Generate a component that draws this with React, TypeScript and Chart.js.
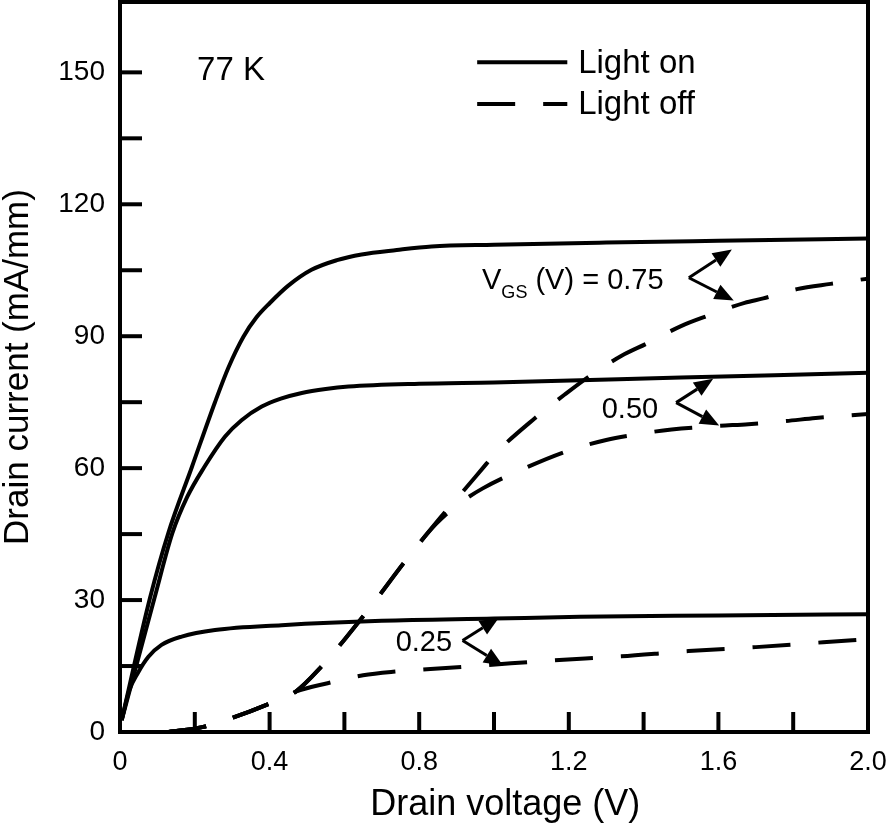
import React, { useEffect, useRef } from 'react';
import { Chart, registerables } from 'chart.js';

Chart.register(...registerables);

const FONT = "'Liberation Sans', Arial, Helvetica, sans-serif";

// Axis ranges and tick settings
const X_MIN = 0;
const X_MAX = 2.0;
const Y_MIN = 0;
const Y_MAX = 166;
const Y_TICK_LAST = 150;
const X_TICK_STEP = 0.2;
const Y_TICK_STEP = 15;

// Light on (solid) — V_GS = 0.75 V
const onV075 = [0.0045, 0.08, 0.129, 0.192, 0.254, 0.29, 0.33, 0.365, 0.4, 0.45, 0.512, 0.58, 0.646, 0.74, 0.833, 1.0, 1.3, 1.6, 2.0];
const onI075 = [2.7, 30.4, 45.2, 60.2, 75, 82.9, 89.9, 94.3, 97.5, 101.5, 105.1, 107.3, 108.6, 109.6, 110.4, 110.8, 111.3, 111.7, 112.2];

// Light on (solid) — V_GS = 0.50 V
const onV050 = [0.0045, 0.092, 0.14, 0.18, 0.225, 0.281, 0.325, 0.379, 0.43, 0.486, 0.55, 0.611, 0.8, 1.0, 1.5, 2.0];
const onI050 = [2.7, 30.4, 45.2, 53.5, 60.2, 67.2, 70.9, 74, 75.8, 77.1, 78.0, 78.55, 79.2, 79.5, 80.6, 81.7];

// Light on (solid) — V_GS = 0.25 V
const onV025 = [0.0045, 0.025, 0.047, 0.076, 0.111, 0.165, 0.254, 0.432, 0.7, 1.0, 1.23, 1.6, 2.0];
const onI025 = [2.7, 9.5, 13.3, 17.1, 19.8, 21.7, 23.2, 24.3, 25.3, 25.8, 26.2, 26.5, 26.8];

// Light off (dashed) — V_GS = 0.75 V
const offV075 = [0.13, 0.22, 0.3, 0.39, 0.47, 0.54, 0.6, 0.675, 0.764, 0.845, 0.91, 0.97, 1.0, 1.11, 1.19, 1.255, 1.34, 1.41, 1.5, 1.57, 1.67, 1.72, 1.81, 1.9, 2.0];
const offI075 = [0, 1.1, 3.2, 6.1, 9.2, 15, 21, 29, 39, 47.6, 54, 60, 63, 71.4, 76.8, 80.9, 85.5, 88.4, 92.3, 94.6, 97.6, 98.6, 100.7, 101.9, 103.1];

// Light off (dashed) — V_GS = 0.50 V
const offV050 = [0.13, 0.22, 0.3, 0.39, 0.47, 0.54, 0.6, 0.675, 0.764, 0.845, 0.9, 0.97, 1.08, 1.2, 1.3, 1.375, 1.475, 1.6, 1.68, 1.78, 1.86, 2.0];
const offI050 = [0, 1.1, 3.2, 6.1, 9.2, 15, 21, 29, 39, 47.3, 51.5, 55.4, 59.9, 64, 66.4, 67.6, 68.8, 69.6, 70, 70.7, 71.4, 72.3];

// Light off (dashed) — V_GS = 0.25 V
const offV025 = [0.13, 0.22, 0.3, 0.39, 0.47, 0.555, 0.65, 0.73, 0.83, 0.98, 1.16, 1.34, 1.52, 1.7, 1.88, 2.0];
const offI025 = [0, 1.1, 3.2, 6.1, 9.2, 11.1, 12.9, 13.7, 14.3, 15.2, 16.3, 17.2, 18.4, 19.3, 20.4, 21.1];

// Text
const X_TITLE = 'Drain voltage (V)';
const Y_TITLE = 'Drain current (mA/mm)';
const TEMP_LABEL = '77 K';
const LEGEND_ON = 'Light on';
const LEGEND_OFF = 'Light off';

const toPts = (xs: number[], ys: number[]) => xs.map((x, i) => ({ x, y: ys[i] }));

const DASH = [38, 28];

function drawArrow(ctx: CanvasRenderingContext2D, x0: number, y0: number, x1: number, y1: number) {
  const ang = Math.atan2(y1 - y0, x1 - x0);
  const headLen = 19;
  const headW = 8;
  const bx = x1 - headLen * Math.cos(ang);
  const by = y1 - headLen * Math.sin(ang);
  ctx.beginPath();
  ctx.moveTo(x0, y0);
  ctx.lineTo(bx, by);
  ctx.stroke();
  ctx.beginPath();
  ctx.moveTo(x1, y1);
  ctx.lineTo(bx + headW * Math.sin(ang), by - headW * Math.cos(ang));
  ctx.lineTo(bx - headW * Math.sin(ang), by + headW * Math.cos(ang));
  ctx.closePath();
  ctx.fill();
}

const decorPlugin = {
  id: 'decor',
  afterDraw(chart: any) {
    const ctx: CanvasRenderingContext2D = chart.ctx;
    const { left, right, top, bottom } = chart.chartArea;
    const xs = chart.scales.x;
    const ys = chart.scales.y;
    const px = (v: number) => xs.getPixelForValue(v);
    const py = (v: number) => ys.getPixelForValue(v);
    ctx.save();
    ctx.strokeStyle = '#000';
    ctx.fillStyle = '#000';
    ctx.lineCap = 'butt';

    // Frame
    ctx.lineWidth = 4;
    ctx.strokeRect(left, top, right - left, bottom - top);

    // Inward tick marks
    ys.ticks.forEach((t: any) => {
      if (t.value <= Y_MIN || t.value > Y_TICK_LAST) return;
      const y = py(t.value);
      ctx.beginPath();
      ctx.moveTo(left, y);
      ctx.lineTo(left + 22, y);
      ctx.stroke();
    });
    xs.ticks.forEach((t: any) => {
      if (t.value <= X_MIN + 1e-9 || t.value >= X_MAX - 1e-9) return;
      const x = px(t.value);
      ctx.beginPath();
      ctx.moveTo(x, bottom);
      ctx.lineTo(x, bottom - 20);
      ctx.stroke();
    });

    // X axis title
    ctx.textAlign = 'center';
    ctx.textBaseline = 'alphabetic';
    ctx.font = `36px ${FONT}`;
    ctx.fillText(X_TITLE, px(1.03), bottom + 83);

    // Temperature label
    ctx.textAlign = 'left';
    ctx.font = `33px ${FONT}`;
    ctx.fillText(TEMP_LABEL, px(0.206), py(148.3));

    // Legend
    ctx.lineWidth = 4;
    ctx.beginPath();
    ctx.moveTo(px(0.955), py(152.3));
    ctx.lineTo(px(1.196), py(152.3));
    ctx.stroke();
    ctx.setLineDash(DASH);
    ctx.beginPath();
    ctx.moveTo(px(0.955), py(142.8));
    ctx.lineTo(px(1.196), py(142.8));
    ctx.stroke();
    ctx.setLineDash([]);
    ctx.font = `33px ${FONT}`;
    ctx.fillText(LEGEND_ON, px(1.225), py(149.8));
    ctx.fillText(LEGEND_OFF, px(1.225), py(140.5));

    // V_GS labels
    ctx.font = `29px ${FONT}`;
    let x = px(0.968);
    const yb = py(100.7);
    ctx.fillText('V', x, yb);
    x += ctx.measureText('V').width;
    ctx.font = `18px ${FONT}`;
    ctx.fillText('GS', x, yb + 9);
    x += ctx.measureText('GS').width;
    ctx.font = `29px ${FONT}`;
    ctx.fillText(' (V) = 0.75', x, yb);

    ctx.textAlign = 'right';
    ctx.fillText('0.50', px(1.439), py(71.5));
    ctx.fillText('0.25', px(0.888), py(18.5));

    // Arrows
    ctx.lineWidth = 3;
    const arrows: [number, number, number, number][] = [
      [1.521, 103.3, 1.636, 109.7],
      [1.521, 103.3, 1.641, 98.1],
      [1.487, 74.9, 1.586, 80.3],
      [1.487, 74.9, 1.602, 69.7],
      [0.916, 20.8, 1.013, 26.0],
      [0.916, 20.8, 1.024, 15.1],
    ];
    arrows.forEach(([a, b, c, d]) => drawArrow(ctx, px(a), py(b), px(c), py(d)));

    ctx.restore();
  },
};

export default function App() {
  const ref = useRef<HTMLCanvasElement>(null);
  useEffect(() => {
    const prevMargin = document.body.style.margin;
    document.body.style.margin = '0';
    const solid = (data: any) => ({
      data,
      borderColor: '#000',
      borderWidth: 4,
      pointRadius: 0,
      fill: false,
      cubicInterpolationMode: 'monotone' as const,
    });
    const dashed = (data: any) => ({ ...solid(data), borderDash: DASH });
    const chart = new Chart(ref.current!, {
      type: 'line',
      data: {
        datasets: [
          { label: 'Light on 0.75', ...solid(toPts(onV075, onI075)) },
          { label: 'Light on 0.50', ...solid(toPts(onV050, onI050)) },
          { label: 'Light on 0.25', ...solid(toPts(onV025, onI025)) },
          { label: 'Light off 0.75', ...dashed(toPts(offV075, offI075)) },
          { label: 'Light off 0.50', ...dashed(toPts(offV050, offI050)) },
          { label: 'Light off 0.25', ...dashed(toPts(offV025, offI025)) },
        ],
      },
      options: {
        responsive: false,
        animation: false,
        devicePixelRatio: 1,
        layout: { padding: { top: 2, right: 18, left: 0, bottom: 0 } },
        plugins: { legend: { display: false }, tooltip: { enabled: false } },
        scales: {
          x: {
            type: 'linear',
            min: X_MIN,
            max: X_MAX,
            grid: { display: false, drawTicks: false },
            border: { display: false },
            ticks: {
              stepSize: X_TICK_STEP,
              autoSkip: false,
              maxRotation: 0,
              color: '#000',
              padding: 14,
              font: { family: FONT, size: 27 },
              callback: (v: any) => {
                const n = Math.round(Number(v) * 10);
                if (n % 4 !== 0) return '';
                return n === 0 ? '0' : (n / 10).toFixed(1);
              },
            },
            title: { display: false },
            afterFit: (s: any) => {
              s.height = 96;
              s.paddingLeft = 0;
              s.paddingRight = 0;
              s.paddingTop = 0;
              s.paddingBottom = 0;
            },
          },
          y: {
            type: 'linear',
            min: Y_MIN,
            max: Y_MAX,
            grid: { display: false, drawTicks: false },
            border: { display: false },
            ticks: {
              stepSize: Y_TICK_STEP,
              includeBounds: false,
              autoSkip: false,
              color: '#000',
              padding: 15,
              font: { family: FONT, size: 28 },
              callback: (v: any) => (Number(v) % 30 === 0 ? String(v) : ''),
            },
            title: {
              display: true,
              text: Y_TITLE,
              color: '#000',
              font: { family: FONT, size: 35 },
              padding: { top: -3, bottom: 0 },
            },
            afterFit: (s: any) => {
              s.width = 120;
              s.paddingLeft = 0;
              s.paddingRight = 0;
              s.paddingTop = 0;
              s.paddingBottom = 0;
            },
          },
        },
      } as any,
      plugins: [decorPlugin],
    });
    return () => {
      chart.destroy();
      document.body.style.margin = prevMargin;
    };
  }, []);
  return (
    <div style={{ width: 886, height: 828 }}>
      <canvas ref={ref} width={886} height={828} style={{ display: 'block' }} />
    </div>
  );
}
